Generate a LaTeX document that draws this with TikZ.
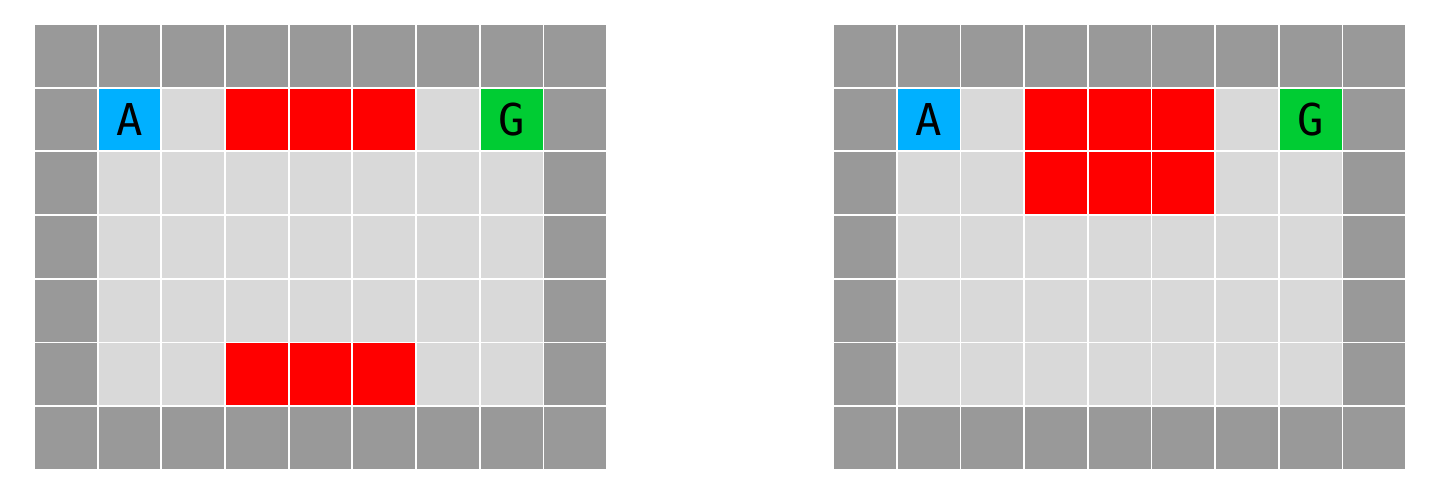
\documentclass[tikz,border=0pt]{standalone}
\usepackage{fontspec}
\newfontfamily\gridfont{DejaVu Sans Mono}
\definecolor{WALL}{HTML}{999999}
\definecolor{FLOOR}{HTML}{D9D9D9}
\definecolor{LAVA}{HTML}{FF0000}
\definecolor{AGENT}{HTML}{00B0FF}
\definecolor{GOAL}{HTML}{00CC33}

\begin{document}
\begin{tikzpicture}[x=1.123cm,y=1.123cm]
\tikzset{cell/.style={draw=white,line width=0.9pt},
 tile/.style={cell,minimum size=1.123cm,inner sep=0pt,font=\gridfont\fontsize{22}{26}\selectfont}}
\useasboundingbox (-0.534,-0.455) rectangle (22.08,7.377);
% both grids: walls and floor
\foreach \ox in {0,12.55}{
 \foreach \c in {0,...,8}
  \foreach \r in {0,...,6}
   \path[cell,fill=WALL] (\ox+\c,\r) rectangle ++(1,1);
 \foreach \c in {1,...,7}
  \foreach \r in {1,...,5}
   \path[cell,fill=FLOOR] (\ox+\c,\r) rectangle ++(1,1);
}
% lava, left grid
\foreach \c in {3,4,5}{
 \path[cell,fill=LAVA] (\c,5) rectangle ++(1,1);
 \path[cell,fill=LAVA] (\c,1) rectangle ++(1,1);
}
% lava, right grid
\foreach \c in {3,4,5}{
 \path[cell,fill=LAVA] (12.55+\c,5) rectangle ++(1,1);
 \path[cell,fill=LAVA] (12.55+\c,4) rectangle ++(1,1);
}
\node[tile,fill=AGENT] (agentL) at (1.5,5.5) {A};
\node[tile,fill=GOAL] (goalL) at (7.5,5.5) {G};
\node[tile,fill=AGENT] (agentR) at (14.05,5.5) {A};
\node[tile,fill=GOAL] (goalR) at (20.05,5.5) {G};
\end{tikzpicture}
\end{document}
